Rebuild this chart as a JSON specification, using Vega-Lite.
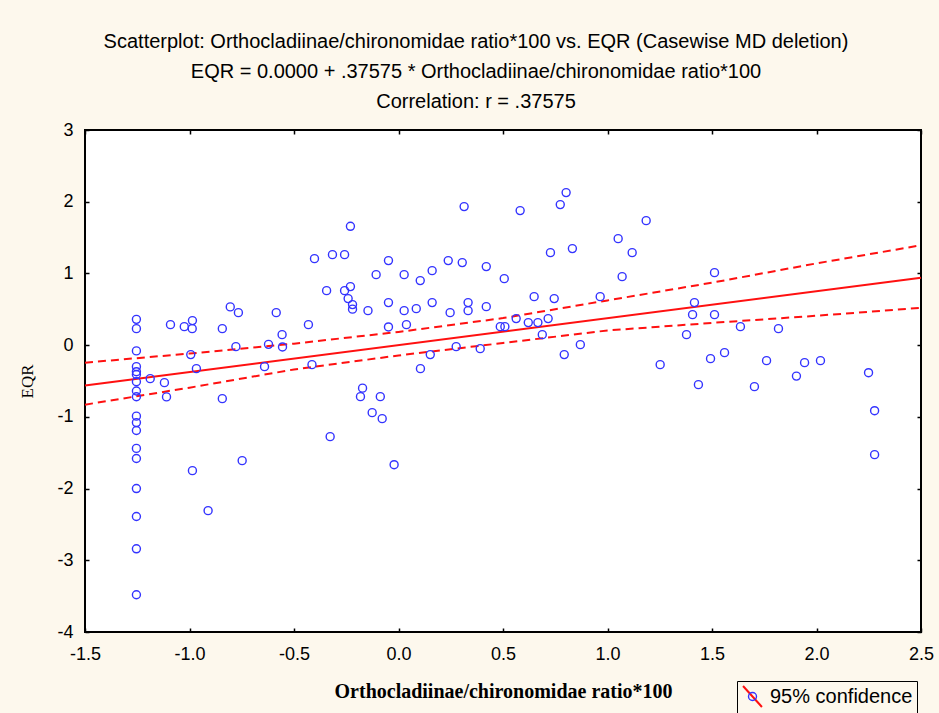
{
  "$schema": "https://vega.github.io/schema/vega-lite/v6.json",
  "width": 836,
  "height": 502,
  "autosize": {"type": "none"},
  "padding": {"left": 85, "top": 130, "right": 18, "bottom": 81},
  "background": "#fdf8ed",
  "title": {
    "text": "Scatterplot: Orthocladiinae/chironomidae ratio*100 vs. EQR (Casewise MD deletion)",
    "subtitle": ["EQR = 0.0000 + .37575 * Orthocladiinae/chironomidae ratio*100", "Correlation: r = .37575"],
    "anchor": "middle",
    "frame": "group",
    "dx": -27,
    "offset": 9,
    "font": "Liberation Sans, sans-serif",
    "fontSize": 20,
    "fontWeight": "normal",
    "color": "black",
    "subtitleFont": "Liberation Sans, sans-serif",
    "subtitleFontSize": 20,
    "subtitleColor": "black",
    "subtitlePadding": 10,
    "subtitleLineHeight": 30
  },
  "config": {
    "view": {"stroke": "black", "strokeWidth": 2, "fill": "white"},
    "axis": {
      "labelFont": "Liberation Sans, sans-serif",
      "labelFontSize": 18,
      "labelColor": "black",
      "labelFlush": false,
      "tickColor": "black",
      "tickWidth": 1.5,
      "tickSize": -4,
      "domain": false,
      "gridColor": "#c4c4c4",
      "gridDash": [3, 2],
      "gridWidth": 1
    }
  },
  "datasets": {
    "cases": [
      {"ratio": -1.254, "eqr": 0.36}, {"ratio": -1.254, "eqr": 0.23}, {"ratio": -1.254, "eqr": -0.08},
      {"ratio": -1.254, "eqr": -0.30}, {"ratio": -1.254, "eqr": -0.37}, {"ratio": -1.254, "eqr": -0.41},
      {"ratio": -1.254, "eqr": -0.51}, {"ratio": -1.254, "eqr": -0.64}, {"ratio": -1.254, "eqr": -0.72},
      {"ratio": -1.254, "eqr": -0.99}, {"ratio": -1.254, "eqr": -1.08}, {"ratio": -1.254, "eqr": -1.19},
      {"ratio": -1.254, "eqr": -1.44}, {"ratio": -1.254, "eqr": -1.58}, {"ratio": -1.254, "eqr": -2.00},
      {"ratio": -1.254, "eqr": -2.39}, {"ratio": -1.254, "eqr": -2.84}, {"ratio": -1.254, "eqr": -3.48},
      {"ratio": -0.230, "eqr": 1.657}, {"ratio": -0.402, "eqr": 1.206}, {"ratio": -0.316, "eqr": 1.262},
      {"ratio": -0.258, "eqr": 1.262}, {"ratio": -0.344, "eqr": 0.760}, {"ratio": -0.258, "eqr": 0.760},
      {"ratio": -0.230, "eqr": 0.816}, {"ratio": -0.241, "eqr": 0.649}, {"ratio": -0.220, "eqr": 0.565},
      {"ratio": -0.220, "eqr": 0.502}, {"ratio": -0.146, "eqr": 0.481}, {"ratio": -0.805, "eqr": 0.533},
      {"ratio": -0.766, "eqr": 0.453}, {"ratio": -0.585, "eqr": 0.453}, {"ratio": -0.431, "eqr": 0.286},
      {"ratio": -0.557, "eqr": 0.146}, {"ratio": -0.555, "eqr": -0.025}, {"ratio": -0.622, "eqr": 0.011},
      {"ratio": -0.778, "eqr": -0.021}, {"ratio": -0.843, "eqr": 0.230}, {"ratio": -0.986, "eqr": 0.342},
      {"ratio": -0.987, "eqr": 0.230}, {"ratio": -1.025, "eqr": 0.258}, {"ratio": -1.091, "eqr": 0.286},
      {"ratio": -1.188, "eqr": -0.467}, {"ratio": -1.120, "eqr": -0.523}, {"ratio": -1.110, "eqr": -0.722},
      {"ratio": -0.994, "eqr": -0.132}, {"ratio": -0.967, "eqr": -0.328}, {"ratio": -0.641, "eqr": -0.300},
      {"ratio": -0.414, "eqr": -0.272}, {"ratio": -0.843, "eqr": -0.746}, {"ratio": -0.986, "eqr": -1.750},
      {"ratio": -0.911, "eqr": -2.308}, {"ratio": -0.748, "eqr": -1.611}, {"ratio": -0.327, "eqr": -1.276},
      {"ratio": -0.172, "eqr": -0.600}, {"ratio": -0.182, "eqr": -0.718}, {"ratio": -0.126, "eqr": -0.941},
      {"ratio": -0.087, "eqr": -0.718}, {"ratio": -0.078, "eqr": -1.025}, {"ratio": -0.021, "eqr": -1.667},
      {"ratio": 0.105, "eqr": -0.328}, {"ratio": 0.314, "eqr": 1.932}, {"ratio": 0.582, "eqr": 1.876},
      {"ratio": 0.774, "eqr": 1.960}, {"ratio": 0.802, "eqr": 2.127}, {"ratio": 0.727, "eqr": 1.290},
      {"ratio": 0.832, "eqr": 1.346}, {"ratio": 1.051, "eqr": 1.485}, {"ratio": 1.118, "eqr": 1.290},
      {"ratio": 1.185, "eqr": 1.736}, {"ratio": 1.070, "eqr": 0.955}, {"ratio": -0.048, "eqr": 1.179},
      {"ratio": -0.107, "eqr": 0.983}, {"ratio": 0.027, "eqr": 0.983}, {"ratio": 0.104, "eqr": 0.900},
      {"ratio": 0.161, "eqr": 1.039}, {"ratio": 0.238, "eqr": 1.179}, {"ratio": 0.305, "eqr": 1.151},
      {"ratio": 0.420, "eqr": 1.095}, {"ratio": 0.506, "eqr": 0.927}, {"ratio": -0.048, "eqr": 0.593},
      {"ratio": -0.048, "eqr": 0.254}, {"ratio": 0.027, "eqr": 0.481}, {"ratio": 0.038, "eqr": 0.286},
      {"ratio": 0.085, "eqr": 0.509}, {"ratio": 0.161, "eqr": 0.593}, {"ratio": 0.247, "eqr": 0.453},
      {"ratio": 0.333, "eqr": 0.593}, {"ratio": 0.333, "eqr": 0.481}, {"ratio": 0.420, "eqr": 0.537},
      {"ratio": 0.487, "eqr": 0.258}, {"ratio": 0.509, "eqr": 0.258}, {"ratio": 0.563, "eqr": 0.370},
      {"ratio": 0.621, "eqr": 0.314}, {"ratio": 0.667, "eqr": 0.314}, {"ratio": 0.716, "eqr": 0.370},
      {"ratio": 0.649, "eqr": 0.676}, {"ratio": 0.745, "eqr": 0.649}, {"ratio": 0.965, "eqr": 0.676},
      {"ratio": 0.688, "eqr": 0.146}, {"ratio": 0.276, "eqr": -0.021}, {"ratio": 0.391, "eqr": -0.049},
      {"ratio": 0.152, "eqr": -0.132}, {"ratio": 0.793, "eqr": -0.132}, {"ratio": 0.870, "eqr": 0.007},
      {"ratio": 1.512, "eqr": 1.011}, {"ratio": 1.416, "eqr": 0.593}, {"ratio": 1.407, "eqr": 0.425},
      {"ratio": 1.512, "eqr": 0.425}, {"ratio": 1.378, "eqr": 0.146}, {"ratio": 1.636, "eqr": 0.258},
      {"ratio": 1.818, "eqr": 0.230}, {"ratio": 1.252, "eqr": -0.272}, {"ratio": 1.493, "eqr": -0.188},
      {"ratio": 1.560, "eqr": -0.105}, {"ratio": 1.761, "eqr": -0.216}, {"ratio": 1.943, "eqr": -0.244},
      {"ratio": 2.019, "eqr": -0.216}, {"ratio": 1.904, "eqr": -0.432}, {"ratio": 2.249, "eqr": -0.384},
      {"ratio": 1.435, "eqr": -0.551}, {"ratio": 1.703, "eqr": -0.579}, {"ratio": 2.278, "eqr": -0.914},
      {"ratio": 2.278, "eqr": -1.527}
    ],
    "fit": [
      {"ratio": -1.5, "eqr": -0.5636},
      {"ratio": 2.5, "eqr": 0.9394}
    ],
    "bands": [
      {"band": "upper", "ratio": -1.5, "eqr": -0.244}, {"band": "upper", "ratio": -1.0, "eqr": -0.118},
      {"band": "upper", "ratio": -0.5, "eqr": 0.021}, {"band": "upper", "ratio": 0.0, "eqr": 0.184},
      {"band": "upper", "ratio": 0.5, "eqr": 0.377}, {"band": "upper", "ratio": 1.0, "eqr": 0.624},
      {"band": "upper", "ratio": 1.5, "eqr": 0.871}, {"band": "upper", "ratio": 2.0, "eqr": 1.14},
      {"band": "upper", "ratio": 2.5, "eqr": 1.393},
      {"band": "lower", "ratio": -1.5, "eqr": -0.83}, {"band": "lower", "ratio": -1.0, "eqr": -0.593},
      {"band": "lower", "ratio": -0.5, "eqr": -0.339}, {"band": "lower", "ratio": 0.0, "eqr": -0.144},
      {"band": "lower", "ratio": 0.5, "eqr": 0.030}, {"band": "lower", "ratio": 1.0, "eqr": 0.205},
      {"band": "lower", "ratio": 1.5, "eqr": 0.310}, {"band": "lower", "ratio": 2.0, "eqr": 0.41},
      {"band": "lower", "ratio": 2.5, "eqr": 0.52}
    ]
  },
  "layer": [
    {
      "data": {"name": "bands"},
      "mark": {"type": "line", "color": "#ff1010", "strokeWidth": 2, "strokeDash": [8, 5]},
      "encoding": {
        "x": {"field": "ratio", "type": "quantitative", "scale": {"domain": [-1.5, 2.5], "nice": false, "zero": false}, "axis": null},
        "y": {"field": "eqr", "type": "quantitative", "scale": {"domain": [-4, 3], "nice": false, "zero": false}, "axis": null},
        "detail": {"field": "band"}
      }
    },
    {
      "data": {"name": "fit"},
      "mark": {"type": "line", "strokeWidth": 2},
      "encoding": {
        "x": {"field": "ratio", "type": "quantitative", "scale": {"domain": [-1.5, 2.5], "nice": false, "zero": false},
              "axis": {"orient": "top", "labels": false, "title": null, "grid": false, "values": [-1.5, -1, -0.5, 0, 0.5, 1, 1.5, 2, 2.5]}},
        "y": {"field": "eqr", "type": "quantitative", "scale": {"domain": [-4, 3], "nice": false, "zero": false},
              "axis": {"orient": "right", "labels": false, "title": null, "grid": false, "values": [-4, -3, -2, -1, 0, 1, 2, 3]}},
        "stroke": {
          "datum": "95% confidence",
          "scale": {"range": ["#ff1010"]},
          "legend": {
            "orient": "none", "legendX": 652, "legendY": 551,
            "title": null, "strokeColor": "black", "padding": 4,
            "symbolType": "M-0.9,-1L0.9,1", "symbolSize": 441, "symbolStrokeWidth": 2,
            "labelFont": "Liberation Sans, sans-serif", "labelFontSize": 20, "labelColor": "black", "labelOffset": 6
          }
        }
      }
    },
    {
      "data": {"name": "cases"},
      "mark": {"type": "point", "shape": "circle", "filled": false, "size": 64, "strokeWidth": 1.4, "opacity": 1},
      "encoding": {
        "x": {"field": "ratio", "type": "quantitative", "scale": {"domain": [-1.5, 2.5], "nice": false, "zero": false},
              "axis": {"values": [-1.5, -1, -0.5, 0, 0.5, 1, 1.5, 2, 2.5], "format": ".1f",
                       "labelExpr": "replace(datum.label, '\u2212', '-')", "labelPadding": 17,
                       "title": "Orthocladiinae/chironomidae ratio*100", "titleFont": "Liberation Serif, serif", "titleFontWeight": "bold",
                       "titleFontSize": 20, "titleColor": "black", "titlePadding": 18}},
        "y": {"field": "eqr", "type": "quantitative", "scale": {"domain": [-4, 3], "nice": false, "zero": false},
              "axis": {"values": [-4, -3, -2, -1, 0, 1, 2, 3], "format": "d",
                       "labelExpr": "replace(datum.label, '\u2212', '-')", "labelPadding": 16,
                       "title": "EQR", "titleFont": "Liberation Serif, serif", "titleFontWeight": "normal",
                       "titleFontSize": 17, "titleColor": "black", "titlePadding": 20}},
        "color": {
          "datum": "confidence band",
          "scale": {"range": ["#3333ff"]},
          "legend": {
            "orient": "none", "legendX": 652, "legendY": 551,
            "title": null, "padding": 4,
            "symbolType": "M0.38,0A0.38,0.38 0 1 1 -0.38,0A0.38,0.38 0 1 1 0.38,0Z", "symbolSize": 441, "symbolStrokeWidth": 1.4,
            "symbolFillColor": "white", "symbolOpacity": 1,
            "labelExpr": "''", "labelFontSize": 20, "labelOffset": 6
          }
        }
      }
    }
  ],
  "resolve": {"axis": {"x": "independent", "y": "independent"}}
}
